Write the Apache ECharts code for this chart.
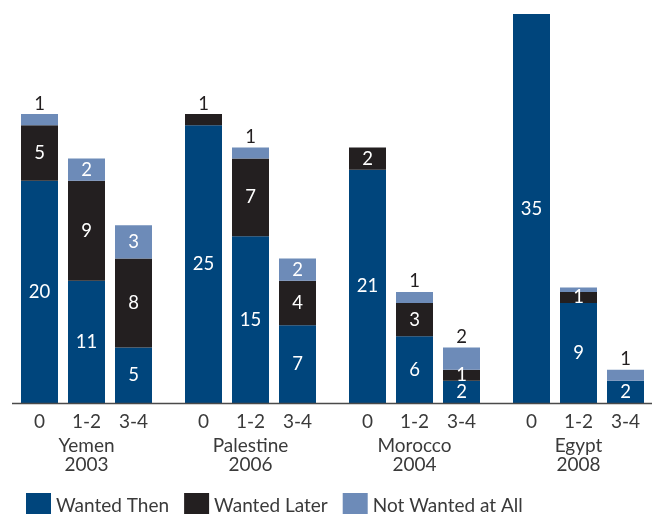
<!DOCTYPE html>
<html>
<head>
<meta charset="utf-8">
<script src="https://cdn.jsdelivr.net/npm/echarts@6/dist/echarts.min.js"></script>
<style>
  html, body { margin: 0; padding: 0; background: #fff; }
  #chart { width: 652px; height: 514px; }
</style>
</head>
<body>
<div id="chart"></div>
<script>
// Surveys: country and year
const countries = ['Yemen\n2003', 'Palestine\n2006', 'Morocco\n2004', 'Egypt\n2008'];
// Number of living children
const parities = ['0', '1-2', '3-4'];
// Births by wantedness, one row per survey, one value per parity group
const wantedThen  = [[20, 11, 5], [25, 15, 7], [21, 6, 2], [35, 9, 2]];
const wantedLater = [[5, 9, 8], [1, 7, 4], [2, 3, 1], [null, 1, null]];
const notWanted   = [[1, 2, 3], [null, 1, 2], [null, 1, 2], [null, 0.4, 1]];

const seriesNames = ['Wanted Then', 'Wanted Later', 'Not Wanted at All'];
const colors = ['#00457c', '#231f20', '#6d8bb8'];
const FONT = 'Lato, "Open Sans", sans-serif';

const chart = echarts.init(document.getElementById('chart'));

// grid geometry: one small grid per survey
const gridLefts = [16, 180, 344, 508];
const gridWidth = 141;
const grids = gridLefts.map(l => ({ left: l, width: gridWidth, top: 3, bottom: 111 }));

const xAxes = countries.map((c, g) => ({
  type: 'category', gridIndex: g, data: parities,
  axisLine: { show: false }, axisTick: { show: false },
  axisLabel: { color: '#3a3a3a', fontSize: 19, fontFamily: FONT, margin: 9 },
  name: c, nameLocation: 'middle', nameGap: 31,
  nameTextStyle: { color: '#3a3a3a', fontSize: 19, fontFamily: FONT, lineHeight: 19 }
}));
const yAxes = countries.map((c, g) => ({
  type: 'value', gridIndex: g, min: 0, max: 36, show: false
}));

const sets = [wantedThen, wantedLater, notWanted];

// topmost drawn segment index for each bar
function topIndex(g, i) {
  for (let s = 2; s >= 0; s--) if (sets[s][g][i] != null) return s;
  return 0;
}
// small top segments get their number written above the bar
const forceAbove = { '2-2-2': true };

const series = [];
countries.forEach((c, g) => {
  sets.forEach((arr, s) => {
    series.push({
      type: 'bar', name: seriesNames[s], stack: 'st' + g,
      xAxisIndex: g, yAxisIndex: g, barWidth: 37,
      itemStyle: { color: colors[s] },
      data: arr[g].map((v, i) => {
        const item = { value: v };
        if (v == null || v < 1) {
          item.label = { show: false };
        } else {
          const isTop = topIndex(g, i) === s;
          const above = isTop && (v <= 1 || forceAbove[g + '-' + s + '-' + i]);
          item.label = above
            ? { show: true, position: 'top', distance: 1, color: '#231f20' }
            : { show: true, position: 'inside', color: '#ffffff' };
        }
        return item;
      }),
      label: { show: true, fontSize: 18.5, fontFamily: FONT, formatter: p => String(p.value) }
    });
  });
});

chart.setOption({
  animation: false,
  grid: grids,
  xAxis: xAxes,
  yAxis: yAxes,
  legend: {
    data: seriesNames,
    left: 21, top: 488,
    icon: 'rect', itemWidth: 25, itemHeight: 25, itemGap: 15,
    textStyle: { color: '#3a3a3a', fontSize: 19, fontFamily: FONT }
  },
  graphic: [{
    type: 'line', z: 10,
    shape: { x1: 12, y1: 403.5, x2: 652, y2: 403.5 },
    style: { stroke: '#4a4a4a', lineWidth: 1.3 }
  }],
  series
});
</script>
</body>
</html>
